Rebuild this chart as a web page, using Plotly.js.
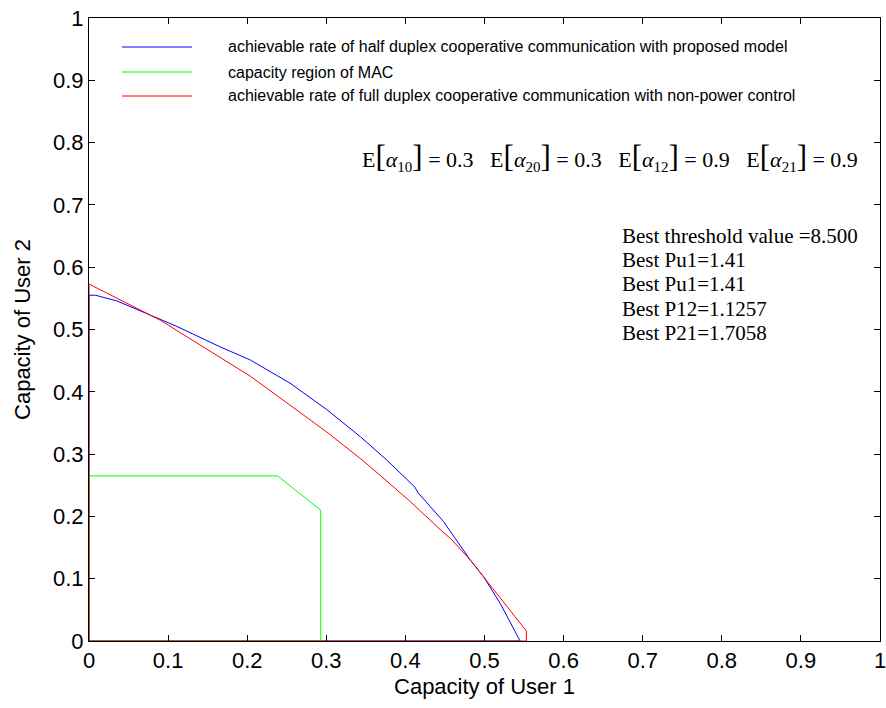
<!DOCTYPE html>
<html>
<head>
<meta charset="utf-8">
<script src="https://cdn.plot.ly/plotly-3.0.1.min.js"></script>
<style>html,body{margin:0;padding:0;background:#fff;}#chart{width:886px;height:708px;}</style>
</head>
<body>
<div id="chart"></div>
<script>
// ---- data ----
const seriesNames = [
  "achievable rate of half duplex cooperative communication with proposed model",
  "capacity region of MAC",
  "achievable rate of full duplex cooperative communication with non-power control"
];
const halfDuplexX = [0, 0, 0.008, 0.035, 0.111, 0.145, 0.166, 0.204, 0.254, 0.300, 0.343, 0.376, 0.412, 0.416, 0.448, 0.482, 0.499, 0.520, 0.545, 0];
const halfDuplexY = [0, 0.555, 0.555, 0.546, 0.505, 0.484, 0.472, 0.451, 0.414, 0.372, 0.328, 0.291, 0.247, 0.238, 0.192, 0.130, 0.103, 0.060, 0, 0];
const macX = [0, 0, 0.2385, 0.293, 0.293, 0];
const macY = [0, 0.265, 0.265, 0.210, 0, 0];
const fullDuplexX = [0, 0, 0.090, 0.204, 0.300, 0.343, 0.368, 0.406, 0.444, 0.459, 0.482, 0.499, 0.553, 0.553, 0];
const fullDuplexY = [0, 0.573, 0.515, 0.425, 0.336, 0.293, 0.266, 0.224, 0.179, 0.162, 0.130, 0.103, 0.016, 0, 0];
const tickVals = [0, 0.1, 0.2, 0.3, 0.4, 0.5, 0.6, 0.7, 0.8, 0.9, 1];
const tickText = ["0", "0.1", "0.2", "0.3", "0.4", "0.5", "0.6", "0.7", "0.8", "0.9", "1"];
const alphaNames = ["10", "20", "12", "21"];
const alphaValues = ["0.3", "0.3", "0.9", "0.9"];
const bestLines = ["Best threshold value =8.500", "Best Pu1=1.41", "Best Pu1=1.41", "Best P12=1.1257", "Best P21=1.7058"];

// ---- styling ----
const colors = ["#0000ff", "#00ff00", "#ff0000"];
const sans = "Liberation Sans, Arial, sans-serif";
const serif = "Liberation Serif, Times New Roman, serif";
const W = 886, H = 708, mL = 89, mR = 6, mT = 18, mB = 67;
const pw = W - mL - mR, ph = H - mT - mB;
const px = v => (v - mL) / pw;          // pixel -> paper x
const py = v => (H - mB - v) / ph;      // pixel -> paper y

const traces = [
  {x: halfDuplexX, y: halfDuplexY, name: seriesNames[0]},
  {x: macX, y: macY, name: seriesNames[1]},
  {x: fullDuplexX, y: fullDuplexY, name: seriesNames[2]}
].map((t, i) => Object.assign(t, {
  type: "scatter", mode: "lines", line: {color: colors[i], width: 1},
  hoverinfo: "skip", showlegend: false
}));

// manual legend (MATLAB style: long samples, no box)
const legendRows = [47, 72, 96];
const shapes = [];
const annotations = [];
seriesNames.forEach((n, i) => {
  shapes.push({type: "line", xref: "paper", yref: "paper",
    x0: px(122), x1: px(192), y0: py(legendRows[i]), y1: py(legendRows[i]),
    line: {color: colors[i], width: 1}});
  annotations.push({xref: "paper", yref: "paper", x: px(226), y: py(legendRows[i]),
    xanchor: "left", yanchor: "middle", text: n, showarrow: false,
    font: {family: sans, size: 16, color: "#000"}});
});

const nb = "\u00a0";
const sp = (s, style) => '<span style="' + style + '">' + s + '</span>';
const eqText = alphaNames.map((n, i) =>
  sp("E", "font-size:22px") + sp("[", "font-size:31px") +
  sp("α", "font-size:22px;font-style:italic") +
  sp(n, "font-size:15px;baseline-shift:-5px") +
  sp("]", "font-size:31px") + sp(nb + "=" + nb + alphaValues[i], "font-size:22px")
).join(sp(nb + nb + nb, "font-size:22px"));

annotations.push({
  xref: "paper", yref: "paper", x: px(360), y: py(157), xanchor: "left", yanchor: "middle",
  text: eqText, showarrow: false, font: {family: serif, size: 22, color: "#000"}
});
bestLines.forEach((s, i) => annotations.push({
  xref: "paper", yref: "paper", x: px(620), y: py(236 + 24.2 * i),
  xanchor: "left", yanchor: "middle", text: s, showarrow: false,
  font: {family: serif, size: 21, color: "#000"}
}));

const axisCommon = {
  range: [0, 1], tickmode: "array", tickvals: tickVals, ticktext: tickText,
  showline: true, linecolor: "#000", linewidth: 1, mirror: "ticks",
  ticks: "inside", ticklen: 6, tickcolor: "#000", tickwidth: 1,
  showgrid: false, zeroline: false, fixedrange: true, ticklabeloverflow: "allow",
  tickfont: {family: sans, size: 22, color: "#000"}
};

const layout = {
  width: W, height: H,
  margin: {l: mL, r: mR, t: mT, b: mB},
  paper_bgcolor: "#fff", plot_bgcolor: "#fff",
  showlegend: false,
  xaxis: Object.assign({}, axisCommon, {
    title: {text: "Capacity of User 1", font: {family: sans, size: 22, color: "#000"}, standoff: 6}
  }),
  yaxis: Object.assign({}, axisCommon, {
    title: {text: "Capacity of User 2", font: {family: sans, size: 22, color: "#000"}, standoff: 16}
  }),
  shapes: shapes,
  annotations: annotations
};

Plotly.newPlot("chart", traces, layout, {displayModeBar: false, staticPlot: true});
</script>
</body>
</html>
